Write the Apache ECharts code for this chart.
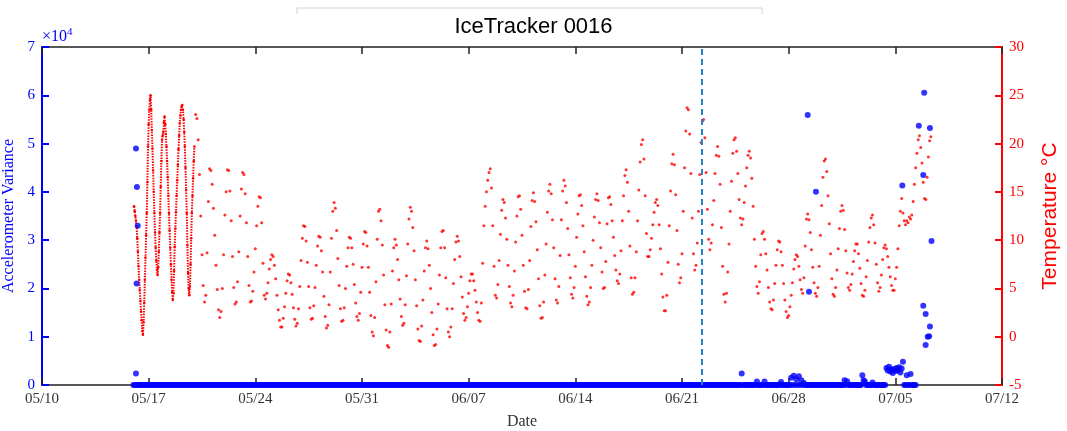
<!DOCTYPE html>
<html>
<head>
<meta charset="utf-8">
<title>IceTracker 0016</title>
<script src="https://cdn.jsdelivr.net/npm/echarts@6/dist/echarts.min.js"></script>
<style>
  html, body { margin: 0; padding: 0; background: #fff; }
  #chart { width: 1067px; height: 431px; }
</style>
</head>
<body>
<div id="chart"></div>
<script>
// x axis: days since 05/10, one tick a week
const tickLabels = ['05/10', '05/17', '05/24', '05/31', '06/07', '06/14', '06/21', '06/28', '07/05', '07/12'];

// temperature (°C), hourly from 05/16 01:00 to 05/20 00:00
const tempEarly = [
  13.5, 13.0, 12.5, 12.0, 11.4, 10.2, 8.8, 7.3, 5.9, 4.8, 3.7, 2.6,
  1.7, 0.6, 0.2, 1.5, 3.5, 5.9, 8.2, 10.5, 12.8, 16.0, 19.7, 22.0,
  23.5, 24.5, 25.0, 23.5, 21.4, 19.5, 17.2, 15.0, 12.8, 10.8, 9.2, 7.9,
  6.9, 6.4, 7.2, 8.8, 10.8, 12.8, 15.5, 18.2, 20.4, 20.8, 21.2, 22.2,
  22.8, 22.0, 21.0, 19.7, 18.2, 16.5, 14.6, 12.8, 11.0, 9.2, 7.5, 5.9,
  4.6, 3.8, 4.5, 6.8, 9.3, 11.2, 12.9, 14.6, 16.2, 17.8, 19.4, 20.8,
  22.1, 22.9, 23.5, 23.9, 24.0, 23.5, 22.5, 21.2, 19.7, 17.5, 15.2, 12.8,
  9.5, 6.6, 5.0, 4.3, 5.2, 7.5, 10.2, 12.8, 14.6, 16.4, 18.2, 19.7
];

// temperature (°C), every 2 h from 05/20 02:00
const tempMain = [
  23.0, 22.6, 20.4, 16.8, 12.5, 8.5, 5.3, 3.6, 4.3, 8.7, 14.0,
  17.4, 17.2, 15.8, 13.3, 10.5, 7.4, 4.9, 2.8, 2.0, 2.6, 5.0, 8.5,
  12.6, 15.0, 17.3, 17.2, 15.1, 12.0, 8.3, 5.1, 3.4, 3.6, 5.7, 8.8,
  12.5, 15.3, 17.0, 16.8, 14.8, 11.8, 8.3, 5.3, 3.6, 3.7, 4.7, 6.7,
  9.1, 11.5, 13.5, 14.5, 14.4, 11.8, 7.6, 4.3, 3.9, 4.5, 5.6, 7.0,
  8.0, 8.5, 8.3, 7.4, 6.0, 4.3, 2.8, 1.7, 1.0, 1.0, 1.9, 3.1,
  4.5, 5.8, 6.5, 6.4, 5.6, 4.4, 3.0, 1.8, 1.1, 1.4, 2.9, 5.2,
  7.9, 10.2, 11.5, 11.4, 9.9, 7.7, 5.2, 3.0, 1.8, 1.9, 3.2, 5.1,
  7.4, 9.4, 10.4, 10.3, 8.9, 6.7, 4.2, 2.1, 0.9, 1.2, 3.3, 6.7,
  10.2, 13.0, 13.9, 13.3, 11.0, 8.1, 5.3, 2.9, 1.6, 1.7, 3.0, 5.0,
  7.3, 9.2, 10.3, 10.2, 9.2, 7.5, 5.4, 3.5, 2.1, 1.7, 2.4, 4.6,
  7.2, 9.6, 10.9, 10.8, 9.4, 7.2, 4.6, 2.2, 0.5, 0.1, 2.0, 5.7,
  10.1, 13.0, 13.2, 12.0, 9.5, 6.4, 3.3, 0.7, -0.9, -1.1, 0.5, 3.4,
  6.8, 9.2, 10.1, 9.5, 8.0, 5.9, 3.9, 2.1, 1.2, 1.4, 3.3, 6.3,
  9.6, 12.2, 13.4, 13.0, 11.3, 8.9, 5.9, 3.2, 0.8, -0.4, -0.5, 1.1,
  3.8, 6.8, 9.2, 9.9, 9.1, 7.4, 5.0, 2.5, 0.2, -0.9, -0.8, 0.8,
  3.4, 6.4, 9.2, 10.9, 11.0, 9.2, 6.1, 2.9, 0.5, 0.0, 1.0, 2.9,
  5.5, 8.0, 9.8, 10.4, 9.9, 8.3, 6.2, 4.1, 2.4, 1.7, 2.0, 3.1,
  4.5, 5.8, 6.5, 6.5, 5.8, 4.8, 3.6, 2.5, 1.7, 1.6, 3.5, 7.6,
  11.5, 13.5, 15.0, 16.2, 17.0, 17.4, 15.4, 11.5, 7.3, 4.3, 4.0, 5.4,
  7.9, 10.6, 13.1, 14.2, 13.9, 12.3, 10.1, 7.4, 5.2, 3.5, 3.1, 4.3,
  6.8, 9.8, 12.5, 14.5, 14.6, 13.2, 10.5, 7.4, 4.7, 3.0, 2.9, 4.9,
  7.9, 11.4, 14.1, 14.9, 14.0, 11.9, 9.0, 6.0, 3.2, 1.9, 2.0, 3.6,
  6.4, 9.6, 12.9, 15.1, 15.8, 14.8, 12.1, 9.2, 6.0, 3.8, 3.5, 5.2,
  8.4, 12.1, 15.1, 16.2, 15.6, 13.9, 11.2, 8.5, 6.1, 4.4, 4.0, 5.1,
  7.3, 10.3, 12.7, 14.6, 14.7, 13.6, 11.5, 8.8, 6.2, 4.2, 3.3, 3.6,
  5.1, 7.4, 10.0, 12.4, 14.2, 14.8, 14.1, 11.8, 9.2, 6.7, 5.0, 5.1,
  7.8, 11.7, 14.4, 14.5, 13.7, 12.0, 10.3, 8.4, 6.9, 5.8, 5.5, 6.5,
  8.9, 12.0, 14.6, 16.7, 17.3, 16.0, 13.0, 9.4, 6.1, 4.4, 4.6, 6.1,
  8.8, 12.0, 15.2, 18.1, 19.9, 20.4, 18.4, 14.6, 10.7, 8.3, 8.3, 9.0,
  10.2, 11.6, 12.9, 13.9, 14.2, 13.6, 11.6, 9.1, 6.5, 4.1, 2.7, 2.7,
  4.3, 7.7, 11.5, 15.1, 17.9, 18.9, 17.8, 14.7, 11.0, 7.5, 5.6, 6.1,
  8.6, 13.0, 17.5, 21.3, 23.7, 23.5, 21.0, 16.9, 12.3, 8.6, 6.9, 7.4,
  9.7, 13.0, 16.8, 20.1, 22.3, 22.5, 20.6, 17.0, 13.2, 10.1, 9.0, 9.7,
  11.6, 14.1, 16.9, 18.8, 19.7, 18.7, 15.8, 11.3, 7.3, 4.4, 3.6, 4.5,
  6.7, 9.6, 13.0, 16.1, 19.0, 20.4, 20.6, 19.2, 16.9, 14.2, 12.3, 11.6,
  12.2, 13.9, 15.6, 17.5, 18.8, 19.2, 18.5, 16.4, 13.5, 10.1, 7.3, 5.2,
  4.5, 5.7, 8.5, 10.7, 10.9, 10.1, 8.6, 6.9, 5.1, 3.6, 2.9, 2.8,
  3.8, 5.5, 7.4, 9.0, 9.9, 9.8, 8.8, 7.4, 5.5, 3.8, 2.6, 2.0,
  2.2, 3.1, 4.3, 5.6, 7.0, 8.0, 8.5, 8.3, 7.3, 5.9, 4.9, 4.5,
  6.1, 9.4, 12.2, 12.7, 12.1, 10.8, 9.0, 7.2, 5.6, 4.5, 4.2, 5.1,
  7.3, 10.5, 13.6, 16.5, 18.2, 18.4, 17.1, 14.6, 11.7, 8.6, 6.0, 4.4,
  4.2, 5.1, 6.9, 9.1, 11.2, 13.0, 13.6, 13.1, 11.1, 8.9, 6.6, 5.1,
  4.8, 5.4, 6.5, 7.8, 8.9, 9.6, 9.6, 8.6, 7.1, 5.5, 4.3, 4.2,
  4.8, 6.2, 7.9, 9.8, 11.3, 12.3, 12.6, 11.6, 9.7, 7.5, 5.6, 4.7,
  5.1, 6.4, 8.0, 9.2, 9.5, 9.1, 8.3, 7.2, 6.2, 5.3, 4.8, 4.8,
  6.0, 7.2, 9.1, 11.5, 13.0, 14.3, 12.8, 12.0, 11.6, 12.0, 11.8, 12.4,
  12.2, 12.6, 14.0, 15.8, 17.5, 19.0, 20.4, 20.8, 19.6, 18.0, 16.0, 14.3,
  14.2, 16.5, 18.6, 20.3, 20.7
];

// accelerometer variance, every 2 h from 05/16 00:00 (one row per day)
const accelBase = [
  0,0,0,0,0,0,0,0,0,0,0,0, 0,0,0,0,0,0,0,0,0,0,0,0, 0,0,0,0,0,0,0,0,0,0,0,0,
  0,0,0,0,0,0,0,0,0,0,0,0, 0,0,0,0,0,0,0,0,0,0,0,0, 0,0,0,0,0,0,0,0,0,0,0,0,
  0,0,0,0,0,0,0,0,0,0,0,0, 0,0,0,0,0,0,0,0,0,0,0,0, 0,0,0,0,0,0,0,0,0,0,0,0,
  0,0,0,0,0,0,0,0,0,0,0,0, 0,0,0,0,0,0,0,0,0,0,0,0, 0,0,0,0,0,0,0,0,0,0,0,0,
  0,0,0,0,0,0,0,0,0,0,0,0, 0,0,0,0,0,0,0,0,0,0,0,0, 0,0,0,0,0,0,0,0,0,0,0,0,
  0,0,0,0,0,0,0,0,0,0,0,0, 0,0,0,0,0,0,0,0,0,0,0,0, 0,0,0,0,0,0,0,0,0,0,0,0,
  0,0,0,0,0,0,0,0,0,0,0,0, 0,0,0,0,0,0,0,0,0,0,0,0, 0,0,0,0,0,0,0,0,0,0,0,0,
  0,0,0,0,0,0,0,0,0,0,0,0, 0,0,0,0,0,0,0,0,0,0,0,0, 0,0,0,0,0,0,0,0,0,0,0,0,
  0,0,0,0,0,0,0,0,0,0,0,0, 0,0,0,0,0,0,0,0,0,0,0,0, 0,0,0,0,0,0,0,0,0,0,0,0,
  0,0,0,0,0,0,0,0,0,0,0,0, 0,0,0,0,0,0,0,0,0,0,0,0, 0,0,0,0,0,0,0,0,0,0,0,0,
  0,0,0,0,0,0,0,0,0,0,0,0, 0,0,0,0,0,0,0,0,0,0,0,0, 0,0,0,0,0,0,0,0,0,0,0,0,
  0,0,0,0,0,0,0,0,0,0,0,0, 0,0,0,0,0,0,0,0,0,0,0,0, 0,0,0,0,0,0,0,0,0,0,0,0,
  0,0,0,0,0,0,0,0,0,0,0,0, 0,0,0,0,0,0,0,0,0,0,0,0, 0,0,0,0,0,0,0,0,0,0,0,0,
  0,0,0,0,0,0,0,0,0,0,0,2400,
  0,0,0,0,0,0,0,0,0,0,0,700,
  0,0,0,0,0,700,0,0,0,0,0,0,
  0,0,0,0,0,0,600,0,0,0,0,0,
  0,0,1500,0,1900,0,1200,0,1800,0,1000,0,
  400,0,0,0,0,0,0,0,0,0,0,0,
  0,0,0,0,0,0,0,0,0,0,0,0,
  0,0,0,0,0,0,0,0,1000,0,800,0,
  0,0,0,0,0,0,0,0,0,0,2000,1000,
  700,0,0,0,0,0,500,0,0,0,0,0,
  0,0,0,0,0,3500,3000,3800,2800,3200,2500,3300,
  2900,3500,3000,3700,2600,3400,4800,0,0,2000,0,0,
  2300,0,0,0,0
];

// isolated high readings
const accelEvents = [
  ['05/16 04:00', 49000], ['05/16 04:00', 2400], ['05/16 05:00', 21000],
  ['05/16 05:30', 41000], ['05/16 06:45', 33000],
  ['06/29 06:00', 55900], ['06/29 08:00', 19300], ['06/29 19:00', 40000],
  ['07/05 11:00', 41300], ['07/06 13:00', 53700], ['07/06 20:00', 43500],
  ['07/06 20:00', 16400], ['07/06 21:30', 60500], ['07/06 23:45', 14700],
  ['07/06 23:45', 8300], ['07/07 03:00', 10000], ['07/07 05:15', 10100],
  ['07/07 06:30', 53200], ['07/07 06:30', 12100], ['07/07 09:00', 29800]
];

const markerTime = '06/22 07:30';

// days since 05/10 00:00
function dayOffset(s) {
  var m = +s.slice(0, 2), d = +s.slice(3, 5);
  var h = +s.slice(6, 8), mi = +s.slice(9, 11);
  var base = m === 5 ? d - 10 : (m === 6 ? 21 + d : 51 + d);
  return base + (h + mi / 60) / 24;
}

var serif = 'Liberation Serif';
var chart = echarts.init(document.getElementById('chart'));

var accelData = accelBase.map(function (v, i) { return [6 + i / 12, v]; })
  .concat(accelEvents.map(function (e) { return [dayOffset(e[0]), e[1]]; }));

chart.setOption({
  animation: false,
  title: {
    text: 'IceTracker 0016',
    left: 'center',
    top: 11,
    textStyle: { fontFamily: 'Liberation Sans', fontSize: 22, fontWeight: 'normal', color: '#000' }
  },
  grid: { left: 42, right: 65, top: 47, bottom: 46, outerBoundsMode: 'none', containLabel: false },
  graphic: [
    {
      type: 'polyline',
      shape: { points: [[297, 14], [297, 8], [762, 8], [762, 14]] },
      style: { stroke: '#d4d4d4', fill: null, lineWidth: 1 }
    },
    {
      type: 'text',
      left: 42, top: 27,
      style: {
        text: '×10{s|4}',
        fontFamily: serif, fontSize: 16, fill: '#0000ff',
        rich: { s: { fontFamily: serif, fontSize: 11, fill: '#0000ff', verticalAlign: 'top', padding: [0, 0, 8, 0] } }
      }
    }
  ],
  xAxis: [
    {
      type: 'value', position: 'bottom', min: 0, max: 63, interval: 7,
      axisLine: { onZero: false, lineStyle: { color: '#222', width: 1.5 } },
      axisTick: { inside: true, length: 7, lineStyle: { color: '#222', width: 1.5 } },
      axisLabel: {
        fontFamily: serif, fontSize: 15, color: '#333', margin: 7,
        formatter: function (v) { return tickLabels[Math.round(v / 7)]; }
      },
      splitLine: { show: false },
      name: 'Date', nameLocation: 'middle', nameGap: 29,
      nameTextStyle: { fontFamily: serif, fontSize: 16, color: '#333' }
    },
    {
      type: 'value', position: 'top', min: 0, max: 63, interval: 7,
      axisLine: { onZero: false, lineStyle: { color: '#222', width: 1.5 } },
      axisTick: { inside: true, length: 7, lineStyle: { color: '#222', width: 1.5 } },
      axisLabel: { show: false },
      splitLine: { show: false }
    }
  ],
  yAxis: [
    {
      type: 'value', position: 'left', min: 0, max: 70000, interval: 10000,
      axisLine: { show: true, onZero: false, lineStyle: { color: '#0000ff', width: 2 } },
      axisTick: { show: true, inside: true, length: 7, lineStyle: { color: '#0000ff', width: 2 } },
      axisLabel: {
        fontFamily: serif, fontSize: 15, color: '#0000ff', margin: 7,
        formatter: function (v) { return v / 10000; }
      },
      splitLine: { show: false },
      name: 'Accelerometer Variance', nameLocation: 'middle', nameGap: 22, nameRotate: 90,
      nameTextStyle: { fontFamily: serif, fontSize: 16, color: '#0000ff' }
    },
    {
      type: 'value', position: 'right', min: -5, max: 30, interval: 5,
      axisLine: { show: true, onZero: false, lineStyle: { color: '#ff0000', width: 2 } },
      axisTick: { show: true, inside: true, length: 7, lineStyle: { color: '#ff0000', width: 2 } },
      axisLabel: { fontFamily: serif, fontSize: 15, color: '#ff0000', margin: 7 },
      splitLine: { show: false },
      name: 'Temperature °C', nameLocation: 'middle', nameGap: 38, nameRotate: 90,
      nameTextStyle: { fontFamily: 'Liberation Sans', fontSize: 21, color: '#ff0000' }
    }
  ],
  series: [
    {
      name: 'Temperature', type: 'line', yAxisIndex: 1,
      data: tempEarly.map(function (v, i) { return [6 + (i + 1) / 24, v]; }),
      symbol: 'circle', symbolSize: 2.5, showSymbol: true,
      itemStyle: { color: '#ff0000' },
      lineStyle: { color: '#ff0000', width: 2, type: [1.5, 1.2] },
      z: 2
    },
    {
      name: 'Temperature', type: 'scatter', yAxisIndex: 1,
      data: tempMain.map(function (v, i) { return [10 + (i + 1) / 12, v]; }),
      symbolSize: 3,
      itemStyle: { color: '#ff0000' },
      z: 2
    },
    {
      name: 'Accelerometer Variance', type: 'scatter', yAxisIndex: 0,
      data: accelData,
      symbolSize: 6,
      itemStyle: { color: '#0000ff' },
      z: 3,
      markLine: {
        silent: true, symbol: 'none', label: { show: false },
        lineStyle: { color: '#1f86cc', width: 2, type: [6, 4] },
        data: [{ xAxis: dayOffset(markerTime) }]
      }
    }
  ]
});
</script>
</body>
</html>
